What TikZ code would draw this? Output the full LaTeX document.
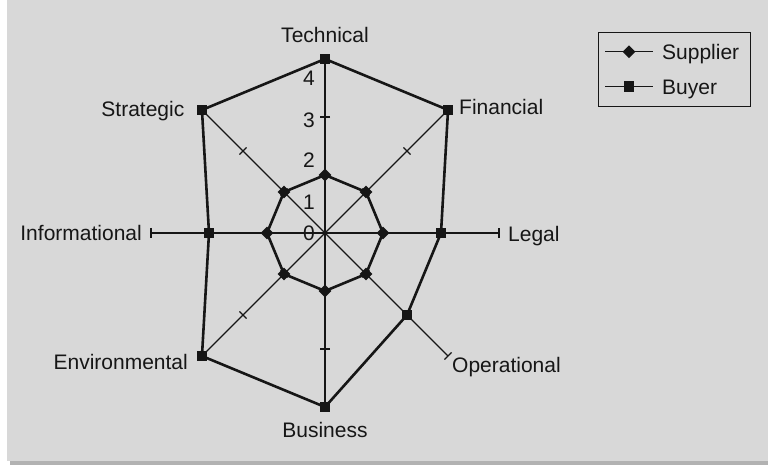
\documentclass[tikz,border=0pt]{standalone}
\usepackage{fontspec}
\setmainfont{Liberation Sans}
\usetikzlibrary{shapes.geometric}
\definecolor{bg}{RGB}{216,216,216}
\definecolor{shadowc}{RGB}{178,178,178}
\definecolor{ink}{RGB}{22,22,22}
\begin{document}
\begin{tikzpicture}[x=1pt,y=1pt,
  lbl/.style={font=\fontsize{21}{25}\selectfont, text=ink, inner sep=0pt, text height=15pt, text depth=0pt},
  axisline/.style={draw=ink, line width=1.2pt},
  series/.style={draw=ink, line width=2.6pt, line join=miter},
  sup/.style={diamond, fill=ink, inner sep=0pt, minimum width=13pt, minimum height=13pt},
  buy/.style={rectangle, fill=ink, inner sep=0pt, minimum size=10.5pt},
  legbox/.style={draw=ink, line width=1.2pt, inner sep=0pt}]
\useasboundingbox (0,0) rectangle (768,466);
\fill[white] (0,0) rectangle (768,466);
\fill[shadowc] (10,1) rectangle (768,462);
\fill[bg] (7,5) rectangle (768,466);

\coordinate (o) at (325,233);
\begin{scope}[shift={(325,233)}]
  % axes
  \foreach \ang [count=\i] in {90,45,0,-45,-90,-135,180,135}{
    \coordinate (e\i) at (\ang:174);
    \draw[axisline] (o) -- (e\i);
    \begin{scope}[rotate=\ang]
      \foreach \r in {58,116,174}{
        \draw[axisline] (\r,-5) -- (\r,5);
      }
    \end{scope}
  }
  % series polygons
  \foreach \ang [count=\i] in {90,45,0,-45,-90,-135,180,135}{
    \coordinate (sc\i) at (\ang:58);
  }
  \foreach \ang/\r [count=\i] in {90/174,45/174,0/116,-45/116,-90/174,-135/174,180/116,135/174}{
    \coordinate (bc\i) at (\ang:\r);
  }
  \draw[series] (sc1) -- (sc2) -- (sc3) -- (sc4) -- (sc5) -- (sc6) -- (sc7) -- (sc8) -- cycle;
  \draw[series] (bc1) -- (bc2) -- (bc3) -- (bc4) -- (bc5) -- (bc6) -- (bc7) -- (bc8) -- cycle;
  \foreach \i in {1,...,8}{
    \node[sup] (s\i) at (sc\i) {};
    \node[buy] (b\i) at (bc\i) {};
  }
\end{scope}

% axis numbers
\node[lbl, anchor=east] (n0) at (315,233) {0};
\node[lbl, anchor=east] (n1) at (315,264.3) {1};
\node[lbl, anchor=east] (n2) at (315,306) {2};
\node[lbl, anchor=east] (n3) at (315,346) {3};
\node[lbl, anchor=east] (n4) at (315,387.7) {4};

% category labels
\node[lbl] (tTech) at (325,431) {Technical};
\node[lbl, anchor=west] (tFin) at (459,358.7) {Financial};
\node[lbl, anchor=west] (tLeg) at (508,232) {Legal};
\node[lbl, anchor=west] (tOp) at (452,101) {Operational};
\node[lbl] (tBus) at (325,36) {Business};
\node[lbl, anchor=east] (tEnv) at (188,104.3) {Environmental};
\node[lbl, anchor=east] (tInf) at (142,233) {Informational};
\node[lbl, anchor=east] (tStr) at (184.5,357) {Strategic};

% legend
\node[legbox, minimum width=152pt, minimum height=74pt, anchor=north west] (leg) at (598,434.3) {};
\coordinate (l1a) at (605,414.3);
\coordinate (l1b) at (653,414.3);
\coordinate (l2a) at (605,379.3);
\coordinate (l2b) at (653,379.3);
\draw[axisline] (l1a) -- (l1b);
\draw[axisline] (l2a) -- (l2b);
\node[sup] (ls) at (629,414.3) {};
\node[buy] (lb) at (629,379.3) {};
\node[lbl, anchor=west] (lt1) at (662,414.3) {Supplier};
\node[lbl, anchor=west] (lt2) at (662,379.3) {Buyer};
\end{tikzpicture}
\end{document}
